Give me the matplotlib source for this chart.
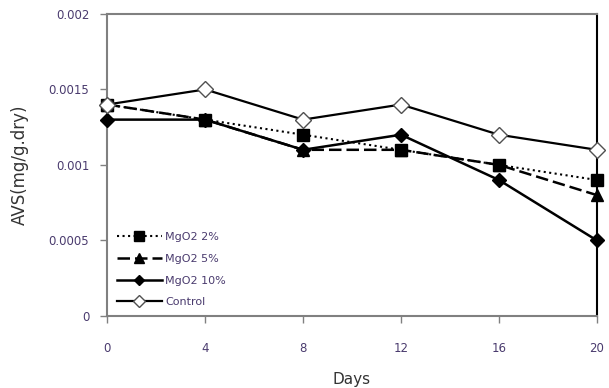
import matplotlib.pyplot as plt

days = [0, 4, 8, 12, 16, 20]
mgo2_2 = [0.0014, 0.0013, 0.0012, 0.0011, 0.0010, 0.0009]
mgo2_5 = [0.0014, 0.0013, 0.0011, 0.0011, 0.0010, 0.0008]
mgo2_10 = [0.0013, 0.0013, 0.0011, 0.0012, 0.0009, 0.0005]
control = [0.0014, 0.0015, 0.0013, 0.0014, 0.0012, 0.0011]

yticks = [0, 0.0005, 0.001, 0.0015, 0.002]
ytick_labels = ["0", "0.0005", "0.001", "0.0015", "0.002"]

tick_color = "#4a3b6e"
axis_color = "#808080"

fig = plt.figure(figsize=(6.09, 3.88), dpi=100)
ax = fig.add_axes([0.176, 0.186, 0.804, 0.778])

ax.plot(days, mgo2_2, color="black", linestyle=":", linewidth=1.5,
        marker="s", markersize=9, label="MgO2 2%", zorder=3, clip_on=False)
ax.plot(days, mgo2_5, color="black", linestyle=(0, (5, 2)), linewidth=1.8,
        marker="^", markersize=9, label="MgO2 5%", zorder=3, clip_on=False)
ax.plot(days, mgo2_10, color="black", linestyle="-", linewidth=1.8,
        marker="D", markersize=7, label="MgO2 10%", zorder=3, clip_on=False)
ax.plot(days, control, color="black", linestyle="-", linewidth=1.6,
        marker="D", markersize=8, markerfacecolor="white",
        markeredgecolor="#505050", label="Control", zorder=4, clip_on=False)

ax.set_xlim(0, 20)
ax.set_ylim(0, 0.002)
ax.set_xticks(days)
ax.set_xticklabels([str(d) for d in days])
ax.set_yticks(yticks)
ax.set_yticklabels(ytick_labels)

ax.tick_params(axis="both", colors=axis_color, labelcolor=tick_color,
               labelsize=8.5, length=5, width=1, direction="out", pad=8)
ax.tick_params(axis="x", pad=14)
for side in ["left", "bottom", "top"]:
    ax.spines[side].set_color(axis_color)
    ax.spines[side].set_linewidth(1.5)
ax.spines["right"].set_color("black")
ax.spines["right"].set_linewidth(1.5)

ax.set_ylabel("AVS(mg/g.dry)", fontsize=12, color="#333333", labelpad=14)
ax.set_xlabel("Days", fontsize=11, color="#333333", labelpad=12)

leg = ax.legend(loc="lower left", bbox_to_anchor=(0.0, -0.005), frameon=False,
                fontsize=8, handlelength=4, labelspacing=1.05,
                handletextpad=0.3, markerscale=0.75)
for t in leg.get_texts():
    t.set_color(tick_color)

fig.savefig("out.png", dpi=100)
